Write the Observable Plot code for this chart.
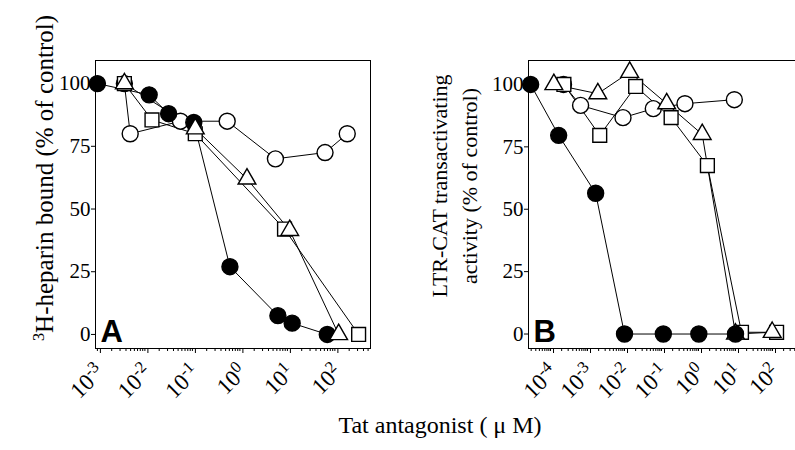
<!DOCTYPE html>
<html><head><meta charset="utf-8">
<script src="https://cdn.jsdelivr.net/npm/d3@7"></script>
<script src="https://cdn.jsdelivr.net/npm/@observablehq/plot@0.6"></script>
<style>
body{margin:0;background:#fff;overflow:hidden}
#wrap{position:relative;width:795px;height:450px;overflow:hidden;font-family:"Liberation Serif","Times New Roman",serif;color:#000;background:#fff}
.pl{position:absolute;top:0}
.lab{position:absolute;white-space:nowrap;color:#000;font-family:"Liberation Serif",serif;line-height:1}
.rot{transform:translate(-50%,-50%) rotate(-90deg);text-align:center}
sup{font-size:0.65em;vertical-align:0.55em;line-height:0}
</style></head><body><div id="wrap"></div>
<script>
// ---------- Panel A: 3H-heparin bound (% of control) vs Tat antagonist (µM)
const aFilledX = [0.001, 0.0123, 0.0316, 0.107, 0.617, 6.31, 12.6, 69.2];
const aFilledY = [100, 95.5, 88, 84.5, 27, 7.5, 4.5, 0];
const aOpenX   = [0.0037, 0.0049, 0.056, 0.54, 5.6, 62, 182];
const aOpenY   = [100, 80, 85, 85, 70, 72.5, 80];
const aSquareX = [0.0037, 0.0141, 0.115, 8.7, 316];
const aSquareY = [100, 85.5, 80, 42, 0];
const aTriX    = [0.0037, 0.115, 1.41, 11.2, 120];
const aTriY    = [100, 82, 62, 41.5, 0];
const aMajor   = [-3, -2, -1, 0, 1, 2];   // exponents of the labelled ticks

// ---------- Panel B: LTR-CAT transactivating activity (% of control)
const bFilledX = [0.000029, 0.000166, 0.00166, 0.01, 0.112, 1.02, 10];
const bFilledY = [100, 79.6, 56.4, 0, 0, 0, 0];
const bOpenX   = [0.000224, 0.00065, 0.0091, 0.060, 0.43, 9.3];
const bOpenY   = [100, 91.6, 86.7, 90.3, 92.3, 93.9];
const bTriX    = [0.000123, 0.0019, 0.0138, 0.138, 1.26, 10, 98];
const bTriY    = [100, 96.3, 104.9, 92.3, 80, 0, 0.7];
const bSquareX = [0.00023, 0.00214, 0.020, 0.182, 1.74, 14.5, 129];
const bSquareY = [100, 79.6, 99.2, 86.7, 67.5, 0.7, 0.7];
const bMajor   = [-4, -3, -2, -1, 0, 1, 2];

const yTicks = [0, 25, 50, 75, 100];

const SERIF = "Liberation Serif";
const zip = (xs, ys) => xs.map((x, i) => ({x, y: ys[i]}));
function minorTicks(dom) {
  const out = [];
  for (let e = -6; e <= 3; e++) for (let m = 1; m <= 9; m++) {
    const v = m * Math.pow(10, e);
    if (v >= dom[0] && v <= dom[1]) out.push(v);
  }
  return out;
}
function supLabels(svg) {
  d3.select(svg).selectAll('g[aria-label="x-axis tick label"] text').each(function () {
    const t = this.textContent;
    if (!t.includes("^")) return;
    const [base, ex] = t.split("^");
    const sel = d3.select(this);
    sel.text("");
    sel.append("tspan").text(base);
    sel.append("tspan").attr("dy", "-0.5em").attr("font-size", "0.72em").text(ex);
  });
}

function panel(o) {
  const dotStyle = {stroke: "black", strokeWidth: 1.4};
  const series = o.series;
  const marks = [];
  for (const s of series) marks.push(Plot.line(s.data, {x: "x", y: "y", stroke: "black", strokeWidth: 1}));
  for (const s of series) marks.push(Plot.dot(s.data, {x: "x", y: "y", symbol: s.symbol, r: s.r, fill: s.fill, ...dotStyle}));
  const svg = Plot.plot({
    width: o.width, height: 400,
    marginLeft: o.ml, marginRight: o.mr, marginTop: 60, marginBottom: 52,
    style: {fontFamily: SERIF, fontSize: "20px", color: "black", background: "transparent", overflow: "visible"},
    x: {type: "log", domain: o.xDomain},
    y: {domain: o.yDomain},
    marks: [
      ...o.frame,
      Plot.axisY({ticks: yTicks, tickSize: 4, tickPadding: 1, fontSize: 21, fontFamily: SERIF, label: null}),
      Plot.axisX({ticks: o.major.map(e => Math.pow(10, e)), tickSize: 5, tickPadding: 15, tickRotate: -45,
                  fontSize: 23, fontFamily: SERIF, dx: 3, label: null,
                  tickFormat: d => "10^" + Math.round(Math.log10(d))}),
      Plot.axisX({ticks: minorTicks(o.xDomain), tickSize: 3, tickFormat: () => "", label: null}),
      ...marks,
      Plot.text([o.letter], {text: d => d, frameAnchor: "bottom-left", dx: 5, dy: -7, lineAnchor: "bottom",
                 textAnchor: "start", fontSize: 31, fontWeight: "bold", fontFamily: "Liberation Sans", fill: "black"})
    ]
  });
  svg.style.fontFamily = SERIF;
  supLabels(svg);
  svg.classList.add("pl");
  svg.style.left = o.left + "px";
  return svg;
}

const wrap = document.getElementById("wrap");

const aXDomain = [0.000912, 562];
const aYDomain = [-5.6, 109.2];
wrap.appendChild(panel({
  width: 380, ml: 95, mr: 10, left: 0, letter: "A",
  xDomain: aXDomain, yDomain: aYDomain, major: aMajor,
  frame: [Plot.frame({stroke: "black", strokeWidth: 1})],
  series: [
    {data: zip(aOpenX, aOpenY), symbol: "circle", r: 8, fill: "white"},
    {data: zip(aSquareX, aSquareY), symbol: "square", r: 7.8, fill: "white"},
    {data: zip(aFilledX, aFilledY), symbol: "circle", r: 8, fill: "black"},
    {data: zip(aTriX, aTriY), symbol: "triangle", r: 6.6, fill: "white"}
  ]
}));

const bXDomain = [0.0000254, 780];
const bYDomain = [-5.8, 109.6];
wrap.appendChild(panel({
  width: 410, ml: 128, mr: 5, left: 400, letter: "B",
  xDomain: bXDomain, yDomain: bYDomain, major: bMajor,
  frame: [Plot.frame({stroke: "black", strokeWidth: 1})],
  series: [
    {data: zip(bOpenX, bOpenY), symbol: "circle", r: 8, fill: "white"},
    {data: zip(bSquareX, bSquareY), symbol: "square", r: 7.8, fill: "white"},
    {data: zip(bTriX, bTriY), symbol: "triangle", r: 6.6, fill: "white"},
    {data: zip(bFilledX, bFilledY), symbol: "circle", r: 8, fill: "black"}
  ]
}));

// axis titles
function addLabel(html, css, cls) {
  const d = document.createElement("div");
  d.className = "lab " + (cls || "");
  d.innerHTML = html;
  Object.assign(d.style, css);
  wrap.appendChild(d);
}
addLabel("<sup>3</sup>H-heparin bound (% of control)", {left: "44px", top: "178px", fontSize: "25px"}, "rot");
addLabel("LTR-CAT transactivating<br>activity (% of control)", {left: "455px", top: "186px", fontSize: "22px", lineHeight: "30px"}, "rot");
addLabel("Tat antagonist ( μ M)", {left: "440px", top: "425px", fontSize: "24px", transform: "translate(-50%,-50%)"});
</script></body></html>
